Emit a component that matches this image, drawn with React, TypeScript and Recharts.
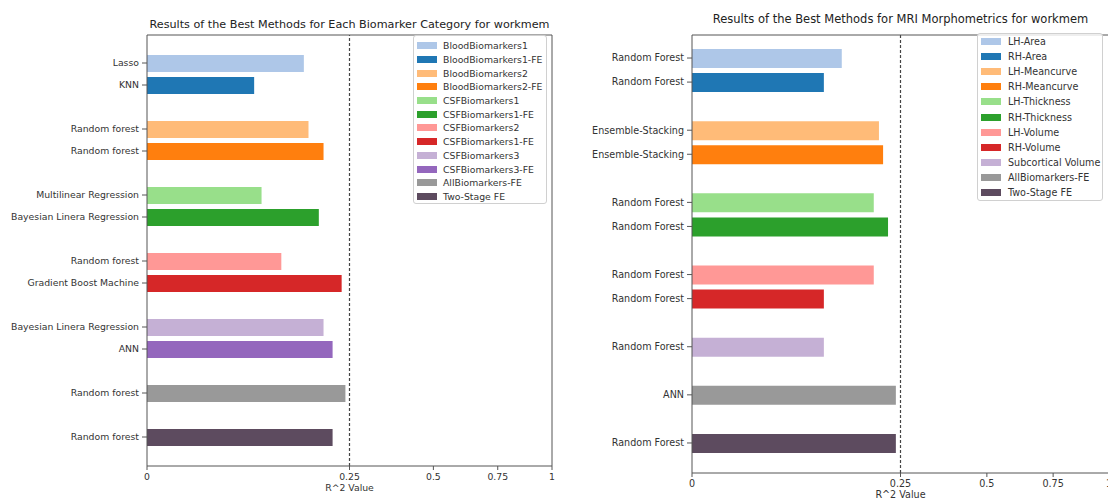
import React from 'react';
import { BarChart, Bar, Cell, XAxis, YAxis, ReferenceLine, Legend } from 'recharts';

// Biomarker panel (left)
const bioSeries = [
  'BloodBiomarkers1', 'BloodBiomarkers1-FE', 'BloodBiomarkers2', 'BloodBiomarkers2-FE',
  'CSFBiomarkers1', 'CSFBiomarkers1-FE', 'CSFBiomarkers2', 'CSFBiomarkers1-FE',
  'CSFBiomarkers3', 'CSFBiomarkers3-FE', 'AllBiomarkers-FE', 'Two-Stage FE',
];
const bioMethods = [
  'Lasso', 'KNN', 'Random forest', 'Random forest', 'Multilinear Regression',
  'Bayesian Linera Regression', 'Random forest', 'Gradient Boost Machine',
  'Bayesian Linera Regression', 'ANN', 'Random forest', 'Random forest',
];
const bioValues = [0.15, 0.07, 0.159, 0.19, 0.08, 0.18, 0.11, 0.231, 0.19, 0.21, 0.24, 0.21];
const bioGroups = [2, 2, 2, 2, 2, 1, 1];

// MRI panel (right)
const mriSeries = [
  'LH-Area', 'RH-Area', 'LH-Meancurve', 'RH-Meancurve', 'LH-Thickness', 'RH-Thickness',
  'LH-Volume', 'RH-Volume', 'Subcortical Volume', 'AllBiomarkers-FE', 'Two-Stage FE',
];
const mriMethods = [
  'Random Forest', 'Random Forest', 'Ensemble-Stacking', 'Ensemble-Stacking',
  'Random Forest', 'Random Forest', 'Random Forest', 'Random Forest',
  'Random Forest', 'ANN', 'Random Forest',
];
const mriValues = [0.129, 0.1, 0.201, 0.21, 0.19, 0.221, 0.19, 0.1, 0.1, 0.239, 0.239];
const mriGroups = [2, 2, 2, 2, 1, 1, 1];

const pairColors = [
  '#aec7e8', '#1f77b4', '#ffbb78', '#ff7f0e', '#98df8a', '#2ca02c',
  '#ff9896', '#d62728', '#c5b0d5', '#9467bd',
];
const bioColors = [...pairColors, '#999999', '#5d4b5f'];
const mriColors = [...pairColors.slice(0, 9), '#999999', '#5d4b5f'];

const r2Ticks = [0, 0.25, 0.5, 0.75, 1];
const threshold = 0.25;

const FONT = '"DejaVu Sans", sans-serif';
const TEXT = '#333';
const AXIS = '#555';

type Row = { slot: string; label: string; value: number | null; color: string };

// one row per bar, with an empty row between groups
function buildRows(methods: string[], values: number[], colors: string[], groups: number[]): Row[] {
  const rows: Row[] = [];
  let i = 0;
  groups.forEach((size, g) => {
    if (g > 0) rows.push({ slot: `gap${g}`, label: '', value: null, color: 'none' });
    for (let k = 0; k < size; k++, i++) {
      rows.push({ slot: `m${i}`, label: methods[i], value: values[i], color: colors[i] });
    }
  });
  return rows;
}

interface PanelProps {
  title: string;
  rows: Row[];
  series: string[];
  colors: string[];
  left: number;
  yWidth: number;
  xHeight: number;
  marginRight: number;
  pad: { top: number; bottom: number };
  barSize: number;
  fontSize: number;
  titleSize: number;
  titleY: number;
  legend: { left: number; top: number; width: number; row: number; padTop: number; swatchGap: number };
}

const Panel: React.FC<PanelProps> = (p) => {
  const W = 560;
  const H = 501;
  const plotLeft = p.yWidth;
  const plotWidth = W - p.yWidth - p.marginRight;

  const renderTick = (t: any) => {
    const row = p.rows.find(r => r.slot === t.payload.value);
    if (!row || !row.label) return <g />;
    return (
      <g>
        <line x1={t.x + 3} x2={t.x + 8} y1={t.y} y2={t.y} stroke={AXIS} />
        <text x={t.x} y={t.y} dy="0.35em" textAnchor="end" fontSize={p.fontSize} fill={TEXT} fontFamily={FONT}>
          {row.label}
        </text>
      </g>
    );
  };

  const renderLegend = () => (
    <div
      style={{
        border: '1px solid #d0d0d0',
        borderRadius: 3,
        background: 'rgba(255,255,255,0.8)',
        paddingTop: p.legend.padTop,
        width: p.legend.width,
        boxSizing: 'border-box',
        fontFamily: FONT,
        fontSize: p.fontSize,
        color: TEXT,
      }}
    >
      {p.series.map((name, i) => (
        <div key={i} style={{ display: 'flex', alignItems: 'center', height: p.legend.row, whiteSpace: 'nowrap' }}>
          <span style={{ display: 'inline-block', width: 20, height: 7, background: p.colors[i], marginLeft: 3, marginRight: p.legend.swatchGap }} />
          {name}
        </div>
      ))}
    </div>
  );

  return (
    <div style={{ position: 'absolute', left: p.left, top: 0, width: W, height: H }}>
      <div
        style={{
          position: 'absolute', left: plotLeft, width: plotWidth, top: p.titleY - 8,
          textAlign: 'center', fontFamily: FONT, fontSize: p.titleSize, color: '#222', whiteSpace: 'nowrap',
          lineHeight: '16px',
        }}
      >
        {p.title}
      </div>
      <BarChart
        width={W}
        height={H}
        data={p.rows}
        layout="vertical"
        margin={{ top: 34, right: p.marginRight - 1, bottom: 0, left: 0 }}
        style={{ position: 'absolute', left: 0, top: 0 }}
      >
        <XAxis
          type="number"
          scale="sqrt"
          domain={[0, 1]}
          ticks={r2Ticks}
          interval={0}
          allowDataOverflow
          height={p.xHeight}
          stroke={AXIS}
          tickSize={4}
          tickMargin={3}
          tick={{ fill: TEXT, fontSize: p.fontSize, fontFamily: FONT }}
          label={{ value: 'R^2 Value', position: 'insideTop', offset: 18, fill: TEXT, fontSize: p.fontSize, fontFamily: FONT }}
        />
        {/* top and right spines of the box */}
        <XAxis xAxisId="top" orientation="top" type="number" domain={[0, 1]} height={1} tick={false} tickLine={false} stroke={AXIS} />
        <YAxis
          type="category"
          dataKey="slot"
          width={p.yWidth}
          interval={0}
          padding={p.pad}
          stroke={AXIS}
          tickLine={false}
          tickSize={5}
          tickMargin={3}
          tick={renderTick}
        />
        <YAxis yAxisId="right" orientation="right" type="number" domain={[0, 1]} width={1} tick={false} tickLine={false} stroke={AXIS} />
        <ReferenceLine x={threshold} stroke="#444" strokeDasharray="3 2" strokeWidth={1.2} />
        <Legend
          layout="vertical"
          align="center"
          verticalAlign="middle"
          content={renderLegend}
          wrapperStyle={{ left: p.legend.left, top: p.legend.top, width: p.legend.width, height: 'auto' }}
        />
        <Bar dataKey="value" barSize={p.barSize} isAnimationActive={false}>
          {p.rows.map(r => (
            <Cell key={r.slot} fill={r.color} />
          ))}
        </Bar>
      </BarChart>
    </div>
  );
};

const App: React.FC = () => {
  const bioRows = buildRows(bioMethods, bioValues, bioColors, bioGroups);
  const mriRows = buildRows(mriMethods, mriValues, mriColors, mriGroups);

  return (
    <div style={{ position: 'fixed', left: 0, top: 0, width: 1108, height: 501, overflow: 'hidden', background: '#fff' }}>
      <Panel
        title="Results of the Best Methods for Each Biomarker Category for workmem"
        rows={bioRows}
        series={bioSeries}
        colors={bioColors}
        left={0}
        yWidth={147}
        xHeight={35}
        marginRight={8}
        pad={{ top: 17, bottom: 18 }}
        barSize={17}
        fontSize={9.3}
        titleSize={11.2}
        titleY={25}
        legend={{ left: 413, top: 35, width: 134, row: 13.7, padTop: 3, swatchGap: 6 }}
      />
      <Panel
        title="Results of the Best Methods for MRI Morphometrics for workmem"
        rows={mriRows}
        series={mriSeries}
        colors={mriColors}
        left={560}
        yWidth={132}
        xHeight={28}
        marginRight={11}
        pad={{ top: 11, bottom: 18 }}
        barSize={19}
        fontSize={9.6}
        titleSize={11.5}
        titleY={19}
        legend={{ left: 417, top: 33, width: 126, row: 15.1, padTop: 0, swatchGap: 7 }}
      />
    </div>
  );
};

export default App;
